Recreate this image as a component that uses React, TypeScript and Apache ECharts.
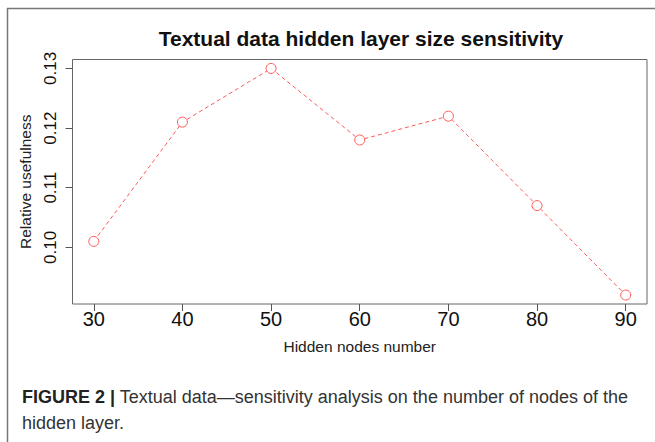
import React, { useEffect, useRef } from "react";
import * as echarts from "echarts";

const hiddenNodes = [30, 40, 50, 60, 70, 80, 90];
const usefulness = [0.101, 0.121, 0.130, 0.118, 0.122, 0.107, 0.092];
const xTicks = [30, 40, 50, 60, 70, 80, 90];
const yTicks = [0.1, 0.11, 0.12, 0.13];
const titleText = "Textual data hidden layer size sensitivity";
const xName = "Hidden nodes number";
const yName = "Relative usefulness";
const captionBold = "FIGURE 2 |";
const captionLine1 = " Textual data\u2014sensitivity analysis on the number of nodes of the";
const captionLine2 = "hidden layer.";

export default function App() {
  const ref = useRef<HTMLDivElement>(null);
  useEffect(() => {
    if (!ref.current) return;
    const chart = echarts.init(ref.current, null, { renderer: "svg" });
    const font = "'Liberation Sans', Arial, sans-serif";
    const red = "#ff5a5a";
    chart.setOption({
      animation: false,
      backgroundColor: "#fff",
      textStyle: { fontFamily: font },
      title: {
        text: titleText,
        left: 356,
        top: 23,
        textAlign: "center",
        textStyle: { fontSize: 21, fontWeight: "bold", color: "#111", fontFamily: font },
      },
      grid: {
        left: 72.5,
        right: 8,
        top: 59.5,
        bottom: 138,
        show: true,
        borderColor: "#666",
        borderWidth: 1,
        backgroundColor: "transparent",
      },
      xAxis: {
        type: "value",
        min: 27.6,
        max: 92.4,
        name: xName,
        nameLocation: "middle",
        nameGap: 34,
        nameTextStyle: { fontSize: 15.5, color: "#222", fontFamily: font },
        axisLine: { show: false },
        splitLine: { show: false },
        axisTick: { show: true, length: 7, lineStyle: { color: "#555" }, customValues: xTicks },
        axisLabel: { fontSize: 20, color: "#111", margin: 5, customValues: xTicks, fontFamily: font },
      },
      yAxis: {
        type: "value",
        min: 0.0905,
        max: 0.1315,
        name: yName,
        nameLocation: "middle",
        nameGap: 38,
        nameTextStyle: { fontSize: 15.5, color: "#222", fontFamily: font },
        axisLine: { show: false },
        splitLine: { show: false },
        axisTick: { show: true, length: 7, lineStyle: { color: "#555" }, customValues: yTicks },
        axisLabel: {
          fontSize: 17,
          color: "#111",
          rotate: 90,
          margin: 14,
          customValues: yTicks,
          fontFamily: font,
          formatter: (v: number) => v.toFixed(2),
        },
      },
      series: [
        {
          type: "line",
          data: hiddenNodes.map((x, i) => [x, usefulness[i]]),
          symbol: "circle",
          symbolSize: 10,
          showSymbol: true,
          lineStyle: { color: red, width: 1, type: [4, 3] },
          itemStyle: { color: "#fff", borderColor: red, borderWidth: 1 },
        },
      ],
      graphic: [
        { type: "line", shape: { x1: 7.5, y1: 8, x2: 7.5, y2: 442 }, style: { stroke: "#777", lineWidth: 1.5 } },
        { type: "line", shape: { x1: 7, y1: 8.5, x2: 655, y2: 8.5 }, style: { stroke: "#777", lineWidth: 1.5 } },
        {
          type: "text",
          left: 22,
          top: 388,
          style: {
            text: "{b|" + captionBold + "}{r|" + captionLine1 + "}",
            rich: {
              b: { fontSize: 18, fontWeight: "bold", fill: "#222", fontFamily: font },
              r: { fontSize: 18, fill: "#333", fontFamily: font },
            },
          },
        },
        {
          type: "text",
          left: 22,
          top: 414,
          style: { text: captionLine2, fontSize: 18, fill: "#333", fontFamily: font },
        },
      ],
    });
    return () => chart.dispose();
  }, []);
  return (
    <div
      ref={ref}
      style={{ position: "fixed", left: 0, top: 0, width: 655, height: 442 }}
    />
  );
}
